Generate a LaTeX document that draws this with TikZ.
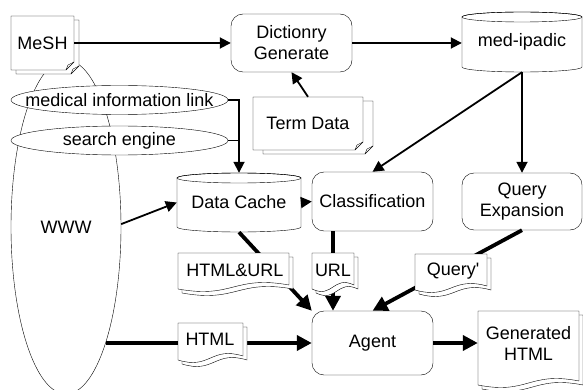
\documentclass[tikz,border=0pt]{standalone}
\usepackage{fontspec}
\setmainfont{Liberation Sans}
\usetikzlibrary{arrows.meta,shapes.geometric}

% note page with folded corner: x0 y0 x1 y1
\newcommand\notepg[4]{%
  \filldraw[fill=white] (#1,#2) -- (#3,#2) -- (#3,#4-8) -- (#3-8,#4) -- (#1,#4) -- cycle;
  \draw (#3-8,#4) -- (#3-6,#4-5) -- (#3,#4-8);}
% document page with wavy bottom: x0 y0 x1 ybottom
\newcommand\docpg[4]{%
  \filldraw[fill=white] (#1,#2) -- (#3,#2) -- (#3,#4-4) .. controls ({(#1+#3)/2},#4-14) and ({(#1+#3)/2},#4+10) .. (#1,#4) -- cycle;}
\newcommand\docstack[4]{\docpg{#1+4}{#2+4}{#3+4}{#4+4}\docpg{#1}{#2}{#3}{#4}}

\tikzset{
  lbl/.style={font=\fontsize{18pt}{21pt}\selectfont, inner sep=0pt, align=center},
  rbox/.style={lbl, draw, fill=white, rounded corners=12pt},
  tarrow/.style={line width=1.8pt, -{Triangle[length=11pt,width=11pt]}},
  tline/.style={line width=1.8pt},
  barrow/.style={line width=3.8pt, -{Triangle[length=15pt,width=15pt]}},
}

\begin{document}
\begin{tikzpicture}[x=1pt,y=-1pt]
\useasboundingbox (0,0) rectangle (583,390);

% WWW
\node[lbl, ellipse, draw, minimum width=110pt, minimum height=334pt] (www) at (66,227) {WWW};

% MeSH note stack
\notepg{16}{20}{79}{74}
\notepg{11}{16}{74}{70}
\node[lbl, minimum width=63pt, minimum height=54pt] (mesh) at (42.5,43) {MeSH};

% Term Data note stack
\notepg{263}{101}{373}{154}
\notepg{253}{97}{363}{150}
\node[lbl, minimum width=110pt, minimum height=53pt] (term) at (308,123.5) {Term Data};

% link ellipses
\node[lbl, minimum width=217pt, minimum height=29pt] (mil) at (119.5,100) {};
\filldraw[fill=white] (mil.center) ellipse[x radius=108.5pt, y radius=14.5pt];
\node[lbl] at (mil.center) {medical information link};
\node[lbl, minimum width=217pt, minimum height=29pt] (se) at (119.5,140.5) {};
\filldraw[fill=white] (se.center) ellipse[x radius=108.5pt, y radius=14.5pt];
\node[lbl] at (se.center) {search engine};

% boxes
\node[rbox, minimum width=121pt, minimum height=58pt] (dict) at (291.5,43) {Dictionry\\Generate};
\node[rbox, minimum width=121pt, minimum height=59pt] (class) at (372.5,201.5) {Classification};
\node[rbox, minimum width=120pt, minimum height=57pt] (qe) at (522,201.5) {Query\\Expansion};
\node[rbox, minimum width=121pt, minimum height=64pt] (agent) at (372.5,343) {Agent};

% cylinders
\filldraw[fill=white] (462,17) -- (462,67) arc[start angle=180,end angle=360,x radius=60pt,y radius=5pt]
  -- (582,17) arc[start angle=0,end angle=180,x radius=60pt,y radius=5pt] -- cycle;
\draw (522,17) ellipse[x radius=60pt, y radius=5pt];
\node[lbl, minimum width=120pt, minimum height=60pt] (med) at (522,42) {\raisebox{-2pt}{med-ipadic}};

\filldraw[fill=white] (177,178) -- (177,227) arc[start angle=180,end angle=360,x radius=62pt,y radius=5pt]
  -- (301,178) arc[start angle=0,end angle=180,x radius=62pt,y radius=5pt] -- cycle;
\draw (239,178) ellipse[x radius=62pt, y radius=5pt];
\node[lbl, minimum width=124pt, minimum height=59pt] (cache) at (239,202.5) {\raisebox{-4pt}{Data Cache}};

% thin connectors
\draw[tarrow] (mesh.east) -- (dict.west);
\draw[tarrow] (dict.east) -- (dict.east -| med.west);
\draw[tarrow] (term.north) -- (dict.south);
\draw[tarrow] (mil.east) -| (cache.north);
\draw[tline] (se.east) -- (se.east -| cache.north);
\draw[tarrow] (www.3) -- (cache.west);
\draw[tarrow] (cache.east) -- (class.west);
\draw[tarrow] (med.south) -- (class.north);
\draw[tarrow] (med.south) -- (qe.north);

% text nodes for documents (positions)
\node[lbl] (hu) at (235,270) {\phantom{HTML\&URL}};
\node[lbl] (url) at (333,270) {\phantom{URL}};
\node[lbl] (qp) at (453,271) {\phantom{Query'}};
\node[lbl] (html) at (210,339) {\phantom{HTML}};
\node[lbl, minimum width=101pt] (gen) at (528.5,343) {\phantom{Generated}};

% thick connectors
\draw[barrow] (cache.south) -- (agent.north west);
\draw[barrow] (class.south -| url) -- (agent.north -| url);
\draw[barrow] (qe.south) -- (agent.north);
\draw[barrow] (www.-71 |- agent.west) -- (agent.west);

% documents
\docstack{178}{253}{289}{289}
\docstack{312}{253}{354}{289}
\docstack{415}{254}{487}{290}
\docstack{178}{323}{243}{360}
\docstack{478}{311}{579}{385}

\draw[barrow] (agent.east) -- (gen.west);

\node[lbl] at (hu) {HTML\&URL};
\node[lbl] at (url) {URL};
\node[lbl] at (qp) {Query\textquotesingle};
\node[lbl] at (html) {HTML};
\node[lbl] at (gen) {Generated\\HTML};
\end{tikzpicture}
\end{document}
